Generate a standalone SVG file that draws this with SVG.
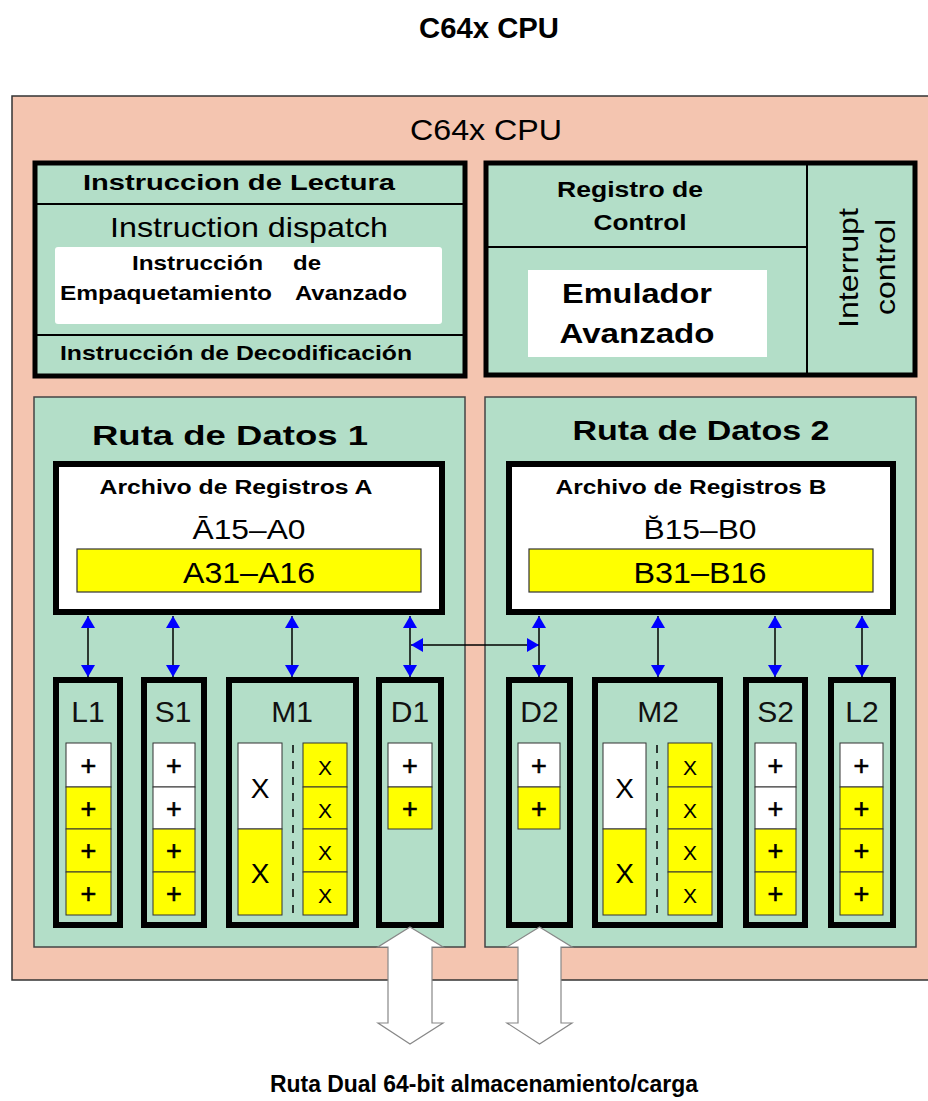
<svg xmlns="http://www.w3.org/2000/svg" width="928" height="1101" viewBox="0 0 928 1101">
<style>
text{font-family:"Liberation Sans",Arial,sans-serif;fill:#000}
.b{font-weight:bold}
.grn{fill:#B3DEC8}
.box{fill:#B3DEC8;stroke:#000;stroke-width:5}
.unit{fill:#B3DEC8;stroke:#000;stroke-width:6}
.w{fill:#fff;stroke:#333;stroke-width:1}
.y{fill:#FFFF00;stroke:#333;stroke-width:1}
.sep{stroke:#000;stroke-width:2}
.dash{stroke:#000;stroke-width:1.5;stroke-dasharray:8 8}
.pl{font-size:27px;text-anchor:middle;stroke:#000;stroke-width:0.6}
.bx{font-size:28px;text-anchor:middle}
.sx{font-size:21px;text-anchor:middle}
.ul{font-size:30px;text-anchor:middle;fill:#111}
.conn{stroke:#000;stroke-width:1.5;fill:none}
.big{fill:#fff;stroke:#888;stroke-width:1.2}
</style>
<defs>
<marker id="ah" viewBox="0 0 12 14" refX="12" refY="7" markerWidth="12" markerHeight="14" markerUnits="userSpaceOnUse" orient="auto-start-reverse"><path d="M0,0L12,7L0,14z" fill="#0000FF"/></marker>
</defs>
<rect width="928" height="1101" fill="#fff"/>
<text x="489" y="38" class="b" font-size="29" text-anchor="middle" textLength="140" lengthAdjust="spacingAndGlyphs">C64x CPU</text>

<g id="cpu">
<rect x="12" y="96" width="930" height="884" fill="#F4C5B0" stroke="#333" stroke-width="1.5"/>
<text x="486" y="140" font-size="29" text-anchor="middle" fill="#222" textLength="152" lengthAdjust="spacingAndGlyphs">C64x CPU</text>
</g>

<g id="fetch">
<rect x="35" y="163" width="430" height="213" class="box"/>
<line x1="35" y1="204" x2="465" y2="204" class="sep"/>
<line x1="35" y1="335" x2="465" y2="335" class="sep"/>
<text x="239" y="190" class="b" font-size="22" text-anchor="middle" textLength="312" lengthAdjust="spacingAndGlyphs">Instruccion  de  Lectura</text>
<text x="249" y="237" font-size="28" text-anchor="middle" fill="#333" textLength="278" lengthAdjust="spacingAndGlyphs">Instruction dispatch</text>
<rect x="55" y="247" width="387" height="77" rx="3" fill="#fff"/>
<text x="132" y="270" class="b" font-size="21" textLength="131" lengthAdjust="spacingAndGlyphs">Instrucción</text>
<text x="293" y="270" class="b" font-size="21" textLength="28" lengthAdjust="spacingAndGlyphs">de</text>
<text x="60" y="300" class="b" font-size="21" textLength="212" lengthAdjust="spacingAndGlyphs">Empaquetamiento</text>
<text x="295" y="300" class="b" font-size="21" textLength="112" lengthAdjust="spacingAndGlyphs">Avanzado</text>
<text x="60" y="360" class="b" font-size="21" textLength="352" lengthAdjust="spacingAndGlyphs">Instrucción de Decodificación</text>
</g>

<g id="control">
<rect x="486" y="163" width="429" height="212" class="box"/>
<line x1="807" y1="163" x2="807" y2="375" class="sep"/>
<line x1="486" y1="247" x2="807" y2="247" class="sep"/>
<text x="630" y="197" class="b" font-size="22" text-anchor="middle" textLength="146" lengthAdjust="spacingAndGlyphs">Registro de</text>
<text x="640" y="230" class="b" font-size="22" text-anchor="middle" textLength="93" lengthAdjust="spacingAndGlyphs">Control</text>
<rect x="528" y="270" width="239" height="87" fill="#fff"/>
<text x="637" y="303" class="b" font-size="27" text-anchor="middle" textLength="150" lengthAdjust="spacingAndGlyphs">Emulador</text>
<text x="637" y="343" class="b" font-size="27" text-anchor="middle" textLength="155" lengthAdjust="spacingAndGlyphs">Avanzado</text>
<text transform="translate(858,268) rotate(-90)" font-size="28" text-anchor="middle" fill="#444" textLength="120" lengthAdjust="spacingAndGlyphs">Interrupt</text>
<text transform="translate(895,267) rotate(-90)" font-size="28" text-anchor="middle" fill="#444" textLength="96" lengthAdjust="spacingAndGlyphs">control</text>
</g>

<g id="datapath1">
<rect x="34" y="397" width="431" height="550" class="grn" stroke="#444" stroke-width="1.5"/>
<text x="230" y="445" class="b" font-size="27" text-anchor="middle" textLength="276" lengthAdjust="spacingAndGlyphs">Ruta  de  Datos  1</text>
</g>
<g id="regfileA">
<rect x="56" y="464" width="386" height="148" fill="#fff" stroke="#000" stroke-width="6"/>
<text x="236" y="494" class="b" font-size="20" text-anchor="middle" textLength="273" lengthAdjust="spacingAndGlyphs">Archivo de Registros  A</text>
<text x="249" y="539" font-size="27" text-anchor="middle" fill="#222" textLength="113" lengthAdjust="spacingAndGlyphs">Ā15–A0</text>
<rect x="77" y="549" width="344" height="43" fill="#FFFF00" stroke="#333" stroke-width="1.2"/>
<text x="249" y="583" font-size="30" text-anchor="middle" fill="#111" textLength="132" lengthAdjust="spacingAndGlyphs">A31–A16</text>
</g>

<g id="datapath2">
<rect x="485" y="397" width="431" height="550" class="grn" stroke="#444" stroke-width="1.5"/>
<text x="701" y="440" class="b" font-size="27" text-anchor="middle" textLength="257" lengthAdjust="spacingAndGlyphs">Ruta de Datos  2</text>
</g>
<g id="regfileB">
<rect x="509" y="464" width="384" height="148" fill="#fff" stroke="#000" stroke-width="6"/>
<text x="691" y="494" class="b" font-size="20" text-anchor="middle" textLength="271" lengthAdjust="spacingAndGlyphs">Archivo de Registros  B</text>
<text x="700" y="539" font-size="27" text-anchor="middle" fill="#222" textLength="113" lengthAdjust="spacingAndGlyphs">B̆15–B0</text>
<rect x="529" y="549" width="344" height="43" fill="#FFFF00" stroke="#333" stroke-width="1.2"/>
<text x="700" y="583" font-size="30" text-anchor="middle" fill="#111" textLength="133" lengthAdjust="spacingAndGlyphs">B31–B16</text>
</g>

<g id="L1">
<rect x="56" y="680" width="64" height="245" class="unit"/>
<text x="88" y="722" class="ul">L1</text>
<rect x="66" y="743" width="45" height="44" class="w"/>
<rect x="66" y="787" width="45" height="42" class="y"/>
<rect x="66" y="829" width="45" height="43" class="y"/>
<rect x="66" y="872" width="45" height="43" class="y"/>
<text x="88.5" y="775" class="pl">+</text><text x="88.5" y="818" class="pl">+</text><text x="88.5" y="860" class="pl">+</text><text x="88.5" y="903" class="pl">+</text>
</g>
<g id="S1">
<rect x="144" y="680" width="60" height="245" class="unit"/>
<text x="173" y="722" class="ul">S1</text>
<rect x="153" y="743" width="42" height="44" class="w"/>
<rect x="153" y="787" width="42" height="42" class="w"/>
<rect x="153" y="829" width="42" height="43" class="y"/>
<rect x="153" y="872" width="42" height="43" class="y"/>
<text x="174" y="775" class="pl">+</text><text x="174" y="818" class="pl">+</text><text x="174" y="860" class="pl">+</text><text x="174" y="903" class="pl">+</text>
</g>
<g id="M1">
<rect x="229" y="680" width="127" height="245" class="unit"/>
<text x="292" y="722" class="ul">M1</text>
<rect x="238" y="743" width="44" height="86" class="w"/>
<rect x="238" y="829" width="44" height="86" class="y"/>
<text x="260" y="798" class="bx">X</text><text x="260" y="883" class="bx">X</text>
<line x1="293" y1="745" x2="293" y2="915" class="dash"/>
<rect x="303" y="743" width="44" height="44" class="y"/>
<rect x="303" y="787" width="44" height="42" class="y"/>
<rect x="303" y="829" width="44" height="43" class="y"/>
<rect x="303" y="872" width="44" height="43" class="y"/>
<text x="325" y="775" class="sx">X</text><text x="325" y="818" class="sx">X</text><text x="325" y="860" class="sx">X</text><text x="325" y="903" class="sx">X</text>
</g>
<g id="D1">
<rect x="379" y="680" width="62" height="245" class="unit"/>
<text x="410" y="722" class="ul">D1</text>
<rect x="388" y="743" width="44" height="44" class="w"/>
<rect x="388" y="787" width="44" height="42" class="y"/>
<text x="410" y="775" class="pl">+</text><text x="410" y="818" class="pl">+</text>
</g>

<g id="D2">
<rect x="509" y="680" width="61" height="245" class="unit"/>
<text x="539.5" y="722" class="ul">D2</text>
<rect x="518" y="743" width="42" height="44" class="w"/>
<rect x="518" y="787" width="42" height="42" class="y"/>
<text x="539" y="775" class="pl">+</text><text x="539" y="818" class="pl">+</text>
</g>
<g id="M2">
<rect x="595" y="680" width="125" height="245" class="unit"/>
<text x="658" y="722" class="ul">M2</text>
<rect x="603" y="743" width="43" height="86" class="w"/>
<rect x="603" y="829" width="43" height="86" class="y"/>
<text x="624.5" y="798" class="bx">X</text><text x="624.5" y="883" class="bx">X</text>
<line x1="657" y1="745" x2="657" y2="915" class="dash"/>
<rect x="668" y="743" width="44" height="44" class="y"/>
<rect x="668" y="787" width="44" height="42" class="y"/>
<rect x="668" y="829" width="44" height="43" class="y"/>
<rect x="668" y="872" width="44" height="43" class="y"/>
<text x="690" y="775" class="sx">X</text><text x="690" y="818" class="sx">X</text><text x="690" y="860" class="sx">X</text><text x="690" y="903" class="sx">X</text>
</g>
<g id="S2">
<rect x="746" y="680" width="59" height="245" class="unit"/>
<text x="775.5" y="722" class="ul">S2</text>
<rect x="755" y="743" width="41" height="44" class="w"/>
<rect x="755" y="787" width="41" height="42" class="w"/>
<rect x="755" y="829" width="41" height="43" class="y"/>
<rect x="755" y="872" width="41" height="43" class="y"/>
<text x="775.5" y="775" class="pl">+</text><text x="775.5" y="818" class="pl">+</text><text x="775.5" y="860" class="pl">+</text><text x="775.5" y="903" class="pl">+</text>
</g>
<g id="L2">
<rect x="831" y="680" width="62" height="245" class="unit"/>
<text x="862" y="722" class="ul">L2</text>
<rect x="840" y="743" width="43" height="44" class="w"/>
<rect x="840" y="787" width="43" height="42" class="y"/>
<rect x="840" y="829" width="43" height="43" class="y"/>
<rect x="840" y="872" width="43" height="43" class="y"/>
<text x="861.5" y="775" class="pl">+</text><text x="861.5" y="818" class="pl">+</text><text x="861.5" y="860" class="pl">+</text><text x="861.5" y="903" class="pl">+</text>
</g>

<g id="connectors">
<line x1="88" y1="616" x2="88" y2="677" class="conn" marker-start="url(#ah)" marker-end="url(#ah)"/>
<line x1="173" y1="616" x2="173" y2="677" class="conn" marker-start="url(#ah)" marker-end="url(#ah)"/>
<line x1="292" y1="616" x2="292" y2="677" class="conn" stroke="#555" marker-start="url(#ah)" marker-end="url(#ah)"/>
<line x1="410" y1="616" x2="410" y2="677" class="conn" marker-start="url(#ah)" marker-end="url(#ah)"/>
<line x1="539" y1="616" x2="539" y2="677" class="conn" marker-start="url(#ah)" marker-end="url(#ah)"/>
<line x1="658" y1="616" x2="658" y2="677" class="conn" marker-start="url(#ah)" marker-end="url(#ah)"/>
<line x1="775" y1="616" x2="775" y2="677" class="conn" stroke="#666" marker-start="url(#ah)" marker-end="url(#ah)"/>
<line x1="862" y1="616" x2="862" y2="677" class="conn" marker-start="url(#ah)" marker-end="url(#ah)"/>
<line x1="411" y1="645" x2="539" y2="645" class="conn" stroke="#333" stroke-width="1.2" marker-start="url(#ah)" marker-end="url(#ah)"/>
<polygon class="big" points="410,927 443,947 432,947 432,1023 443,1023 410,1044 378,1023 388,1023 388,947 378,947"/>
<polygon class="big" points="539.5,927 572,947 561,947 561,1023 572,1023 539.5,1044 507,1023 518,1023 518,947 507,947"/>
</g>

<text x="484" y="1092" class="b" font-size="24" text-anchor="middle" textLength="428" lengthAdjust="spacingAndGlyphs">Ruta Dual 64-bit almacenamiento/carga</text>
</svg>
